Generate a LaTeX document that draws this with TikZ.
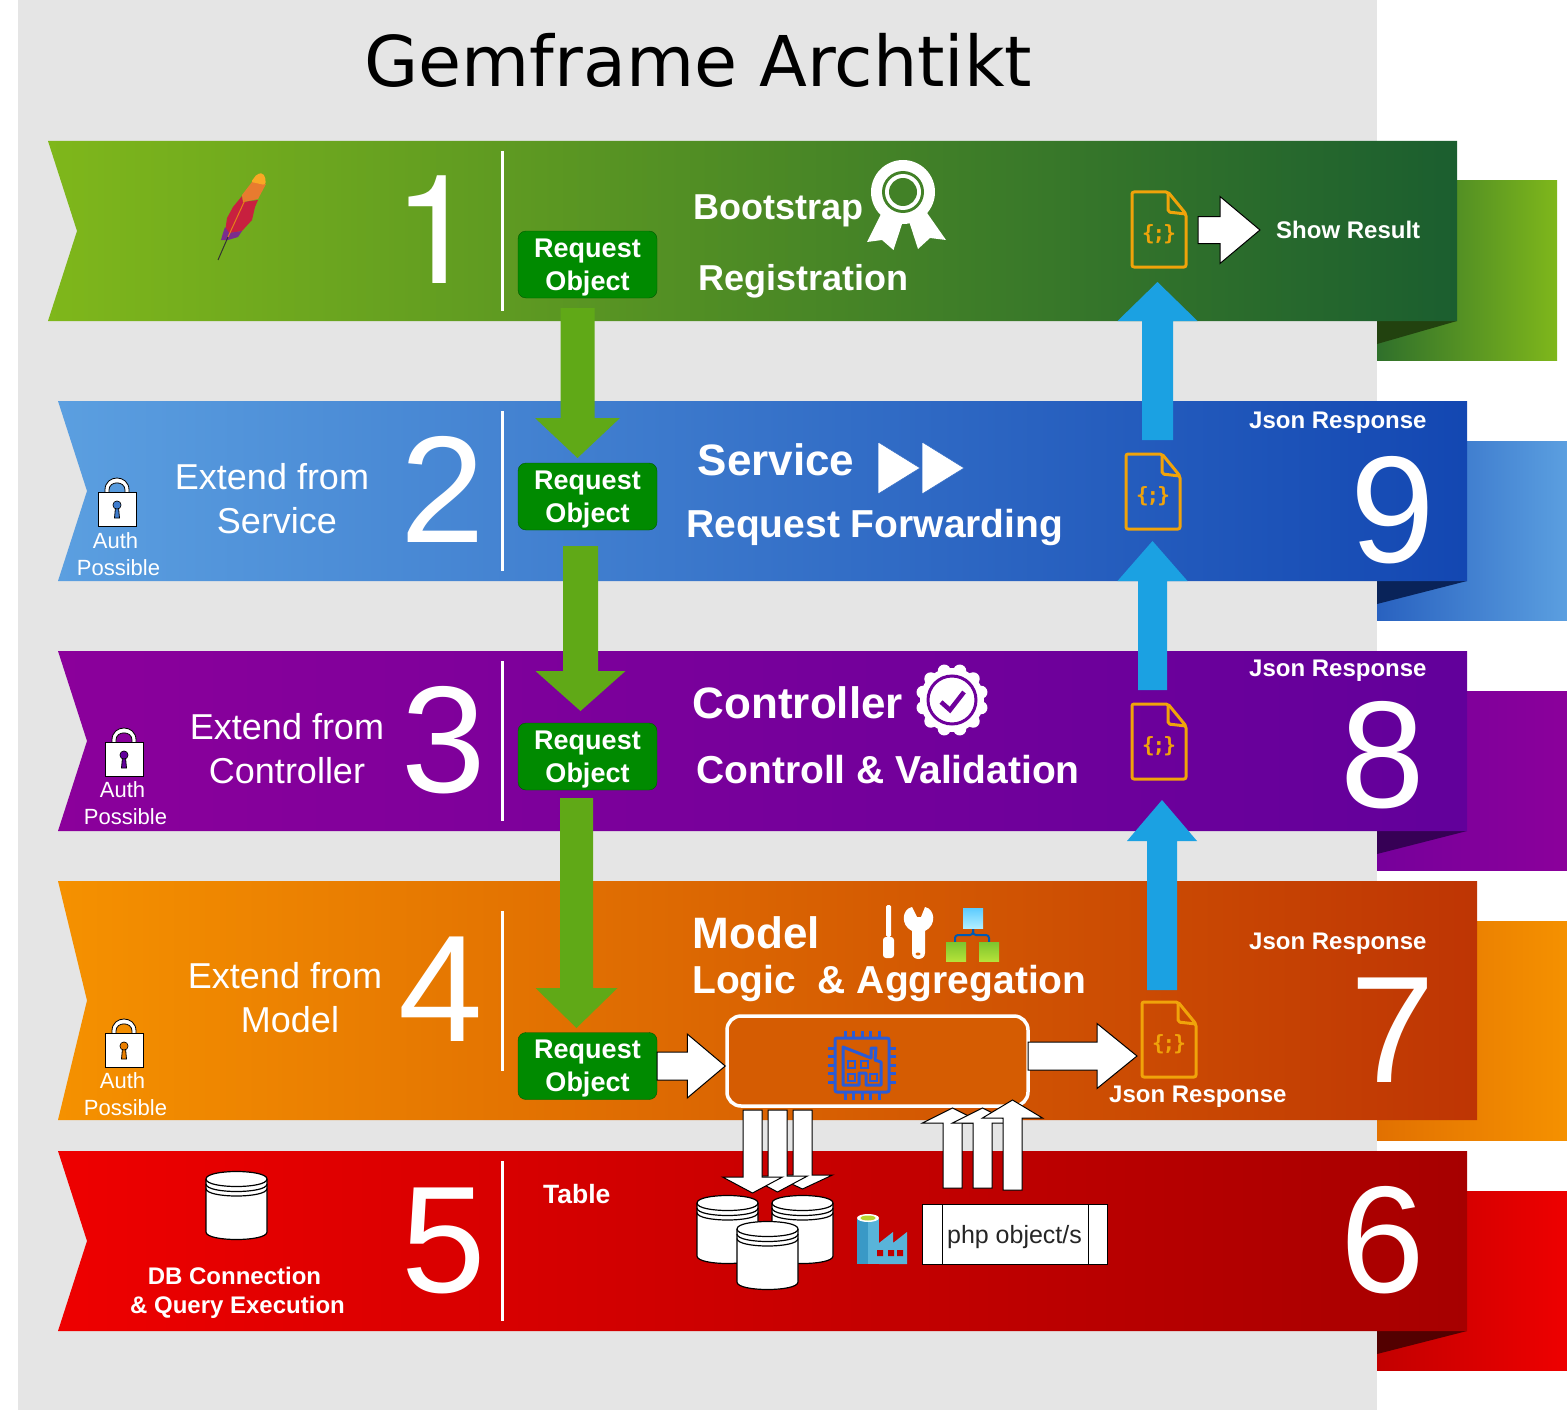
\documentclass[tikz,border=0pt]{standalone}
\usepackage{fontspec}
\setmainfont{Liberation Sans}
\newfontfamily\titlefont{DejaVu Sans}
\newfontfamily\monofont{DejaVu Sans Mono}
\newfontfamily\heros{TeX Gyre Heros}
\usetikzlibrary{calc}
\newcommand\fsz[1]{\fontsize{#1}{#1}\selectfont}
\definecolor{rgA}{HTML}{7FB71B}\definecolor{rgB}{HTML}{1B5E2F}
\definecolor{rbA}{HTML}{5B9FE0}\definecolor{rbB}{HTML}{1347B2}
\definecolor{rpA}{HTML}{8B009B}\definecolor{rpB}{HTML}{62009B}
\definecolor{roA}{HTML}{F59100}\definecolor{roB}{HTML}{BE3504}
\definecolor{rrA}{HTML}{EE0000}\definecolor{rrB}{HTML}{A60000}
\definecolor{foldG}{HTML}{22420F}
\definecolor{jsonc}{HTML}{F0A30A}
\definecolor{bluearr}{HTML}{1BA1E2}
\definecolor{greenarr}{HTML}{60A917}
\definecolor{chipc}{HTML}{2A5BD7}
\definecolor{featherR}{HTML}{C8203F}
\definecolor{featherO}{HTML}{E87B2F}
\definecolor{featherY}{HTML}{F9A825}
\definecolor{featherP}{HTML}{7B2D8E}
\definecolor{hTa}{HTML}{5CCBFF}\definecolor{hTb}{HTML}{B0EEFF}
\definecolor{hBa}{HTML}{B5E23A}\definecolor{hBb}{HTML}{7DC52E}
\definecolor{facD}{HTML}{3999C6}\definecolor{facL}{HTML}{59B4D9}\definecolor{facG}{HTML}{B8D432}
\newcommand\mkshade[3]{\pgfdeclarehorizontalshading{#1}{100bp}{color(0bp)=(#2);color(25bp)=(#2);color(75bp)=(#3);color(100bp)=(#3)}}
\mkshade{ribG}{rgA}{rgB}
\mkshade{ribB}{rbA}{rbB}
\mkshade{ribP}{rpA}{rpB}
\mkshade{ribO}{roA}{roB}
\mkshade{ribR}{rrA}{rrB}
\mkshade{tailG}{rgB!80!rgA}{rgA}
\mkshade{tailB}{rbB!70!rbA}{rbA}
\mkshade{tailP}{rpB!50!rpA}{rpA}
\mkshade{tailO}{roB!35!roA}{roA}
\mkshade{tailR}{rrB!60!rrA}{rrA}
\pgfdeclareverticalshading{hierTop}{100bp}{color(0bp)=(hTb);color(25bp)=(hTb);color(75bp)=(hTa);color(100bp)=(hTa)}
\pgfdeclareverticalshading{hierBot}{100bp}{color(0bp)=(hBa);color(25bp)=(hBa);color(75bp)=(hBb);color(100bp)=(hBb)}
\tikzset{
  lab/.style={text=white,inner sep=0pt},
  digit/.style={lab,anchor=base,font=\fsz{152}},
  ttl/.style={lab,anchor=base west,font=\bfseries\fsz{#1}},
  jsonlab/.style={lab,anchor=base west,font=\bfseries\fsz{24}},
  extend/.style={lab,align=center,font=\fsz{36},execute at begin node=\setlength{\baselineskip}{44pt}},
  authlab/.style={lab,align=center,font=\fsz{22},execute at begin node=\setlength{\baselineskip}{27pt}},
  dblab/.style={lab,align=center,font=\bfseries\fsz{24},execute at begin node=\setlength{\baselineskip}{29pt}},
  reqobj/.style={draw=green!35!black,fill=green!54!black,rounded corners=8pt,minimum width=139pt,minimum height=67pt,inner sep=0pt,
     text=white,align=center,font=\bfseries\fsz{27},execute at begin node=\setlength{\baselineskip}{33pt}},
  divider/.style={white,line width=3pt},
  whitearr/.style={draw=black,fill=white,line width=1pt,line join=miter},
  greenblock/.style={draw=none,fill=greenarr},
  blueblock/.style={draw=none,fill=bluearr},
  cylbody/.style={draw=black,fill=white,line width=1.2pt},
  jsonline/.style={draw=jsonc,line width=3pt,line join=round,rounded corners=2pt},
  chipline/.style={draw=chipc,line width=3pt},
}
\newcommand\blockarr[6]{%
  \coordinate (ba) at ($(#3)!#6pt!(#2)$);
  \draw[#1] ($(#2)!#4pt!90:(#3)$) -- ($(ba)!#4pt!90:(#3)$) -- ($(ba)!#5pt!90:(#3)$) -- (#3)
     -- ($(ba)!#5pt!-90:(#3)$) -- ($(ba)!#4pt!-90:(#3)$) -- ($(#2)!#4pt!-90:(#3)$) -- cycle;}
\newcommand\ribbon[6]{%
  \path[shade,shading=#6] (#1,#4) -- (#3,#4) -- (#3,#5) -- (#1,#5) -- (#2,{(#4+#5)/2}) -- cycle;}
\newcommand\tail[5]{%
  \path[shade,shading=#5] (1377,#1) rectangle (#2,#3);
  \ifx\relax#4\relax\else\fill[#4] (1377,#3-39) -- (#2-100,#3-39) -- (1377,#3-16) -- cycle;\fi}
\newcommand\dbcyl[2]{%
  \begin{scope}[shift={(#1,#2)}]
    \draw[cylbody] (0,8) -- (0,61) .. controls (0,71) and (61,71) .. (61,61) -- (61,8)
       .. controls (61,-2) and (0,-2) .. (0,8) -- cycle;
    \draw[line width=1.2pt] (0,8) .. controls (0,18) and (61,18) .. (61,8);
    \draw[line width=1.2pt] (0,13) .. controls (0,23) and (61,23) .. (61,13);
    \draw[line width=1.2pt] (0,17.5) .. controls (0,27.5) and (61,27.5) .. (61,17.5);
  \end{scope}}
\newcommand\jsonfile[3]{%
  \begin{scope}[shift={(#1,#2)}]
    \draw[jsonline] (0,0) -- (36,0) -- (54,22) -- (54,75) -- (0,75) -- cycle;
    \draw[jsonline] (36,0) -- (36,20) -- (54,22);
    \node[inner sep=0pt,text=jsonc,font=\monofont\bfseries\fsz{21}] (#3) at (27,42) {\{\kern-2pt;\kern-2pt\}};
  \end{scope}}
\newcommand\lockicon[3]{%
  \begin{scope}[shift={(#1,#2)}]
    \draw[black,line width=.8pt,fill=white] (105,494) -- (105,490) .. controls (105,474) and (129,474) .. (129,490) -- (129,494) -- (125,494)
      -- (125,490) .. controls (125,480.5) and (109,480.5) .. (109,490) -- (109,494) -- cycle;
    \draw[black,line width=1pt,fill=white] (98,492.5) rectangle (136,526);
    \draw[black,line width=.8pt,fill=#3] (117,505) circle[radius=4] (114.5,518) -- (115.5,507.5) -- (118.5,507.5) -- (119.5,518) -- cycle;
    \fill[#3] (117,505) circle[radius=3.5];
  \end{scope}}
\begin{document}
\begin{tikzpicture}[x=1pt,y=-1pt]
\useasboundingbox (0,0) rectangle (1567,1410);
\fill[white] (0,0) rectangle (1567,1410);
\fill[black!10] (18,0) rectangle (1377,1410);
\node[inner sep=0pt,anchor=base west,font=\titlefont\fsz{70}] (title) at (364,87) {Gemframe Archtikt};

% tails and folds
\tail{181}{1557}{360}{foldG}{tailG}
\tail{441}{1567}{620}{rbB!50!black}{tailB}
\tail{691}{1567}{870}{rpB!55!black}{tailP}
\tail{921}{1567}{1140}{}{tailO}
\tail{1191}{1567}{1370}{rrB!50!black}{tailR}
% ribbons
\ribbon{48}{77}{1457}{141}{321}{ribG}
\ribbon{58}{87}{1467}{401}{581}{ribB}
\ribbon{58}{87}{1467}{651}{831}{ribP}
\ribbon{58}{87}{1477}{881}{1120}{ribO}
\ribbon{58}{87}{1467}{1151}{1331}{ribR}
% dividers
\draw[divider] (502,151) -- (502,311);
\draw[divider] (502,411) -- (502,571);
\draw[divider] (502,661) -- (502,821);
\draw[divider] (502,911) -- (502,1071);
\draw[divider] (502,1161) -- (502,1321);
% digits
\node[digit,font=\heros\fsz{152}] (d1) at (436,283) {1};
\node[digit] (d2) at (443,542) {2};
\node[digit] (d3) at (444,792) {3};
\node[digit] (d4) at (441,1041) {4};
\node[digit] (d5) at (444,1292) {5};
\node[digit] (d9) at (1393,562) {9};
\node[digit] (d8) at (1383,807) {8};
\node[digit] (d7) at (1393,1082) {7};
\node[digit] (d6) at (1383,1292) {6};

% feather
\fill[featherR] (242,196) -- (243,202) -- (258,200) -- (255,207) -- (252,220) -- (242,231) -- (230,233) -- (225,232) -- (227,218) -- (233,207) -- cycle;
\fill[featherO] (252,182) -- (266,184) -- (258,199) -- (243,202) -- (242,195) -- cycle;
\fill[featherY,rounded corners=2pt] (251,182) -- (257,174) -- (263,173) -- (266,180) -- (265,185) -- cycle;
\fill[featherP] (225,227) -- (229,233) -- (242,231) -- (238,237) -- (228,240) -- (221,240) -- (223,233) -- cycle;
\draw[black!80,line width=1pt] (218,260) -- (228,237);
\draw[orange!60!brown,line width=1pt] (228,237) -- (245,200);

% medal
\fill[white] (883,210) -- (905,215) -- (893.5,250) -- (882,240) -- (867,242) -- cycle;
\fill[white] (907,215) -- (925,210) -- (946,240) -- (930,238) -- (918,249) -- cycle;
\fill[white] (903,192) circle[radius=32];
\fill[rgB!61!rgA] (903,192) circle[radius=21];
\fill[white] (903,192) circle[radius=18];
\fill[rgB!61!rgA] (903,192) circle[radius=14];
% service arrows icon
\draw[fill=white,draw=rbB!60!rbA,line width=.5pt] (878,442) -- (920,468) -- (878,494) -- cycle;
\draw[fill=white,draw=rbB!60!rbA,line width=.5pt] (922,442) -- (964,468) -- (922,494) -- cycle;
% badge
\fill[white] (952,700) circle[radius=32];
\foreach \a in {15,45,...,345} \fill[white] (952,700) ++(\a:30) circle[radius=6.5];
\draw[rpB!70!rpA,line width=3pt] (952,700) circle[radius=24];
\draw[rpB!70!rpA,line width=4.5pt] (941,702) -- (950,710) -- (964,692);
% tools
\fill[white,rounded corners=1.5pt] (886,905) rectangle (891,937);
\fill[white,rounded corners=3pt] (883,937) rectangle (894,958);
\fill[white] (912,907) -- (917,917) -- (921,917) -- (925,907) .. controls (935,909) and (937,925) .. (925,931)
  -- (925,953) .. controls (925,961) and (912,961) .. (912,953) -- (912,931) .. controls (900,925) and (902,909) .. (912,907) -- cycle;
\fill[roA!50!roB] (918,954) ellipse[x radius=2.5,y radius=1.5];
% hierarchy
\draw[blue!50!cyan!70!black,line width=2pt,rounded corners=3pt] (973,928) -- (973,935) -- (955,935) -- (955,942);
\draw[blue!50!cyan!70!black,line width=2pt,rounded corners=3pt] (973,928) -- (973,935) -- (989,935) -- (989,942);
\path[shade,shading=hierTop] (963,908) rectangle (983,928);
\path[shade,shading=hierBot] (946,942) rectangle (966,961);
\path[shade,shading=hierBot] (979,942) rectangle (999,961);

% titles
\node[ttl=36] (bootstrap) at (693,219) {Bootstrap};
\node[ttl=36] (regist) at (698,290) {Registration};
\node[ttl=44] (service) at (697.5,475) {Service};
\node[ttl=39] (forward) at (686,537) {Request Forwarding};
\node[ttl=44] (controller) at (692.5,718) {Controller};
\node[ttl=39] (valid) at (696,783) {Controll \& Validation};
\node[ttl=44] (model) at (692.5,948) {Model};
\node[ttl=39] (logic) at (692,993) {Logic\ \ \& Aggregation};
\node[ttl=24] (showres) at (1276,238) {Show Result};
\node[jsonlab] (jr9) at (1249,428) {Json Response};
\node[jsonlab] (jr8) at (1249,676) {Json Response};
\node[jsonlab] (jr7) at (1249,949) {Json Response};
\node[jsonlab] (jr4) at (1109,1102) {Json Response};
\node[ttl=26.5] (tablelab) at (543,1203) {Table};

\node[extend] (ext2) at (277,499) {Extend from\kern10pt\\Service};
\node[extend] (ext3) at (287,749) {Extend from\\Controller};
\node[extend] (ext4) at (290,998) {Extend from\kern10pt\\Model};

\lockicon{0}{0}{rbA!60!rbB}
\lockicon{7}{250}{rpB}
\lockicon{7}{541}{roA!80!roB}
\node[authlab] (auth2) at (118.5,554) {Auth\kern6pt\\Possible};
\node[authlab] (auth3) at (125.5,803) {Auth\kern6pt\\Possible};
\node[authlab] (auth4) at (125.5,1094) {Auth\kern6pt\\Possible};
\node[dblab] (dbtext) at (237.5,1293) {DB Connection\kern6pt\\\& Query Execution};

% request objects
\node[reqobj] (r1) at (587.5,264.5) {\rule{0pt}{24pt}Request\\Object};
\node[reqobj] (r2) at (587.5,496.5) {\rule{0pt}{24pt}Request\\Object};
\node[reqobj] (r3) at (587.5,756.5) {\rule{0pt}{24pt}Request\\Object};
\node[reqobj] (r4) at (587.5,1066) {\rule{0pt}{24pt}Request\\Object};

% json files
\jsonfile{1132}{192}{j1}
\jsonfile{1126}{454}{j2}
\jsonfile{1132}{704}{j3}
\jsonfile{1142}{1002}{j4}

% green flow arrows
\coordinate (g1a) at (577.5,308); \coordinate (g1b) at (577.5,458);
\coordinate (g2a) at (580.5,546); \coordinate (g2b) at (580.5,711);
\coordinate (g3a) at (576.5,798); \coordinate (g3b) at (576.5,1028);
\blockarr{greenblock}{g1a}{g1b}{17}{42.5}{40}
\blockarr{greenblock}{g2a}{g2b}{17.5}{45}{40}
\blockarr{greenblock}{g3a}{g3b}{16.5}{41}{40}
% blue flow arrows
\coordinate (b1a) at (1157.5,440); \coordinate (b1b) at (1157.5,282);
\coordinate (b2a) at (1152.5,690); \coordinate (b2b) at (1152.5,541);
\coordinate (b3a) at (1162,990); \coordinate (b3b) at (1162,800);
\blockarr{blueblock}{b1a}{b1b}{15.5}{40}{39}
\blockarr{blueblock}{b2a}{b2b}{14.5}{35}{40}
\blockarr{blueblock}{b3a}{b3b}{15}{35}{41}

% process box
\node[draw=white,line width=3.5pt,fill=roA!42!roB,rounded corners=14pt,minimum width=301pt,minimum height=90pt,inner sep=0pt] (proc) at (877.5,1061) {};
% chip icon
\begin{scope}
 \draw[chipline,rounded corners=2pt] (835,1038) rectangle (889,1092);
 \foreach \k in {0,1,2,3,4} {
   \draw[chipline] (845+\k*8.5,1031) -- (845+\k*8.5,1038);
   \draw[chipline] (845+\k*8.5,1092) -- (845+\k*8.5,1100);
   \draw[chipline] (828,1048+\k*8.5) -- (835,1048+\k*8.5);
   \draw[chipline] (889,1048+\k*8.5) -- (896,1048+\k*8.5);
 }
 \draw[chipline,line join=round] (843,1085) -- (843,1047) -- (871,1058) -- (871,1048) -- (876,1048) -- (875,1060) -- (881,1062) -- (881,1085) -- (866,1085) -- (866,1073) -- (859,1073) -- (859,1085) -- cycle;
 \draw[chipline,line width=2pt] (848,1061) rectangle (855,1068) (861,1061) rectangle (868,1068) (848,1074) rectangle (855,1081) (870,1074) rectangle (877,1081);
\end{scope}

% white arrows
\coordinate (s1a) at (1198,230); \coordinate (s1b) at (1260,230);
\blockarr{whitearr}{s1a}{s1b}{13.5}{33.5}{40}
\coordinate (w2a) at (r4.east); \coordinate (w2b) at (r4.east -| proc.west);
\blockarr{whitearr}{w2a}{w2b}{14}{32}{38}
\coordinate (w3a) at (1028,1056); \coordinate (w3b) at (1137,1056);
\blockarr{whitearr}{w3a}{w3b}{14}{32.5}{40}
\coordinate (da3) at (802.5,1110); \coordinate (db3) at (802.5,1189);
\blockarr{whitearr}{da3}{db3}{9.5}{30}{14}
\coordinate (da2) at (777.5,1110); \coordinate (db2) at (777.5,1192);
\blockarr{whitearr}{da2}{db2}{9.5}{30}{16}
\coordinate (da1) at (752.5,1110); \coordinate (db1) at (752.5,1193);
\blockarr{whitearr}{da1}{db1}{9.5}{30}{16}

% database cylinders
\dbcyl{206}{1171}
\dbcyl{697}{1195}
\dbcyl{772}{1195}
\dbcyl{737}{1221}

% php object
\node[draw=black,fill=white,line width=1pt,minimum width=185pt,minimum height=60pt,inner sep=0pt,text=black!85,font=\fsz{25}] (php) at (1014.5,1234) {\rule{0pt}{25pt}php object/s};
\draw[line width=1pt] (942,1204) -- (942,1264) (1088,1204) -- (1088,1264);
\coordinate (ua1) at (952.5,1188); \coordinate (ub1) at (952.5,1108);
\coordinate (ua2) at (982.5,1188); \coordinate (ub2) at (982.5,1108);
\coordinate (ua3) at (1012.5,1190); \coordinate (ub3) at (1012.5,1100);
\blockarr{whitearr}{ua1}{ub1}{9.5}{30}{15}
\blockarr{whitearr}{ua2}{ub2}{9.5}{30}{15}
\blockarr{whitearr}{ua3}{ub3}{9.5}{30}{18}

% factory icon
\fill[facL] (868,1219) rectangle (879,1264);
\fill[facD] (857,1219) rectangle (868,1264);
\fill[facL] (879,1243) -- (893,1232) -- (893,1243) -- (907,1232) -- (907,1264) -- (879,1264) -- cycle;
\fill[white] (868,1218) ellipse[x radius=11,y radius=4];
\fill[facG] (868,1218) ellipse[x radius=7.5,y radius=2.5];
\fill[rrB!65!rrA] (877,1250) rectangle (883,1256) (888,1250) rectangle (894,1256) (897,1250) rectangle (903,1256);
\end{tikzpicture}
\end{document}
